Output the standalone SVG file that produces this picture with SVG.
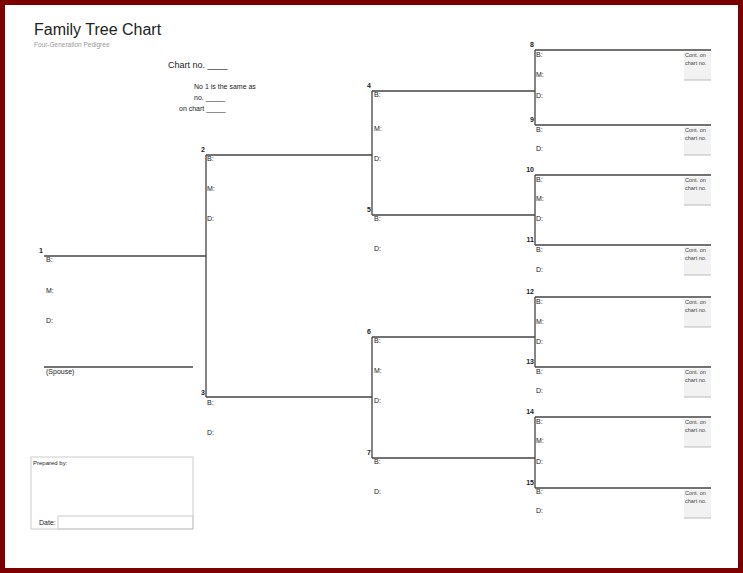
<svg xmlns="http://www.w3.org/2000/svg" width="743" height="573" viewBox="0 0 743 573">
<style>
text{font-family:"Liberation Sans",Arial,sans-serif;fill:#222}
.l{font-size:7px}
.n{font-size:7px;font-weight:bold;text-anchor:end}
.c{font-size:5.5px;fill:#444}
.ln{stroke:#444;stroke-width:1.3;fill:none}
.cb{fill:#f2f2f2}
.cl{stroke:#bbb;stroke-width:1}
</style>
<rect x="0" y="0" width="743" height="573" fill="#7d0000"/>
<rect x="5" y="5" width="733" height="563" fill="#fff"/>
<text x="34" y="35" font-size="16">Family Tree Chart</text>
<text x="34" y="47" font-size="6.5" style="fill:#999">Four-Generation Pedigree</text>
<text x="168" y="68" font-size="9">Chart no. ____</text>
<text x="194" y="89" font-size="7">No 1 is the same as</text>
<text x="194" y="100" font-size="7">no. _____</text>
<text x="179" y="111" font-size="7">on chart _____</text>
<g id="connectors" class="ln">
<path d="M44 256H206M44 367H193M206 155V397M206 155H372M206 397H372M372 91V215M372 91H535M372 215H535M372 337V458M372 337H535M372 458H535"/>
<path d="M535 50V125M535 50H711M535 125H711M535 175V245M535 175H711M535 245H711M535 297V367M535 297H711M535 367H711M535 417V488M535 417H711M535 488H711"/>
</g>
<g id="p1"><text class="n" x="43" y="253">1</text><text class="l" x="46" y="262">B:</text><text class="l" x="46" y="293">M:</text><text class="l" x="46" y="323">D:</text><text class="l" x="46" y="374">(Spouse)</text></g>
<g id="p2"><text class="n" x="205" y="152">2</text><text class="l" x="207" y="161">B:</text><text class="l" x="207" y="191">M:</text><text class="l" x="207" y="221">D:</text></g>
<g id="p3"><text class="n" x="205" y="395">3</text><text class="l" x="207" y="405">B:</text><text class="l" x="207" y="435">D:</text></g>
<g id="p4"><text class="n" x="371" y="88">4</text><text class="l" x="374" y="97">B:</text><text class="l" x="374" y="131">M:</text><text class="l" x="374" y="161">D:</text></g>
<g id="p5"><text class="n" x="371" y="212">5</text><text class="l" x="374" y="221">B:</text><text class="l" x="374" y="251">D:</text></g>
<g id="p6"><text class="n" x="371" y="334">6</text><text class="l" x="374" y="343">B:</text><text class="l" x="374" y="373">M:</text><text class="l" x="374" y="403">D:</text></g>
<g id="p7"><text class="n" x="371" y="455">7</text><text class="l" x="374" y="464">B:</text><text class="l" x="374" y="494">D:</text></g>
<g id="p8"><text class="n" x="534" y="47">8</text><text class="l" x="536" y="57">B:</text><text class="l" x="536" y="77">M:</text><text class="l" x="536" y="98">D:</text><rect class="cb" x="684" y="52" width="27" height="28"/><line class="cl" x1="684" y1="80" x2="711" y2="80"/><text class="c" x="685" y="57">Cont. on</text><text class="c" x="685" y="65">chart no.</text></g>
<g id="p9"><text class="n" x="534" y="122">9</text><text class="l" x="536" y="132">B:</text><text class="l" x="536" y="151">D:</text><rect class="cb" x="684" y="127" width="27" height="28"/><line class="cl" x1="684" y1="155" x2="711" y2="155"/><text class="c" x="685" y="132">Cont. on</text><text class="c" x="685" y="140">chart no.</text></g>
<g id="p10"><text class="n" x="534" y="172">10</text><text class="l" x="536" y="182">B:</text><text class="l" x="536" y="201">M:</text><text class="l" x="536" y="221">D:</text><rect class="cb" x="684" y="177" width="27" height="28"/><line class="cl" x1="684" y1="205" x2="711" y2="205"/><text class="c" x="685" y="182">Cont. on</text><text class="c" x="685" y="190">chart no.</text></g>
<g id="p11"><text class="n" x="534" y="242">11</text><text class="l" x="536" y="252">B:</text><text class="l" x="536" y="272">D:</text><rect class="cb" x="684" y="247" width="27" height="28"/><line class="cl" x1="684" y1="275" x2="711" y2="275"/><text class="c" x="685" y="252">Cont. on</text><text class="c" x="685" y="260">chart no.</text></g>
<g id="p12"><text class="n" x="534" y="294">12</text><text class="l" x="536" y="304">B:</text><text class="l" x="536" y="324">M:</text><text class="l" x="536" y="344">D:</text><rect class="cb" x="684" y="299" width="27" height="28"/><line class="cl" x1="684" y1="327" x2="711" y2="327"/><text class="c" x="685" y="304">Cont. on</text><text class="c" x="685" y="312">chart no.</text></g>
<g id="p13"><text class="n" x="534" y="364">13</text><text class="l" x="536" y="374">B:</text><text class="l" x="536" y="393">D:</text><rect class="cb" x="684" y="369" width="27" height="28"/><line class="cl" x1="684" y1="397" x2="711" y2="397"/><text class="c" x="685" y="374">Cont. on</text><text class="c" x="685" y="382">chart no.</text></g>
<g id="p14"><text class="n" x="534" y="414">14</text><text class="l" x="536" y="424">B:</text><text class="l" x="536" y="443">M:</text><text class="l" x="536" y="464">D:</text><rect class="cb" x="684" y="419" width="27" height="28"/><line class="cl" x1="684" y1="447" x2="711" y2="447"/><text class="c" x="685" y="424">Cont. on</text><text class="c" x="685" y="432">chart no.</text></g>
<g id="p15"><text class="n" x="534" y="485">15</text><text class="l" x="536" y="494">B:</text><text class="l" x="536" y="513">D:</text><rect class="cb" x="684" y="490" width="27" height="28"/><line class="cl" x1="684" y1="518" x2="711" y2="518"/><text class="c" x="685" y="495">Cont. on</text><text class="c" x="685" y="503">chart no.</text></g>
<g id="prepared">
<rect x="31" y="457" width="162" height="72" fill="none" stroke="#ccc"/>
<rect x="58" y="516" width="135" height="13" fill="none" stroke="#ccc"/>
<text x="33" y="465" font-size="6">Prepared by:</text>
<text x="39" y="525" font-size="7">Date:</text>
</g>
</svg>
